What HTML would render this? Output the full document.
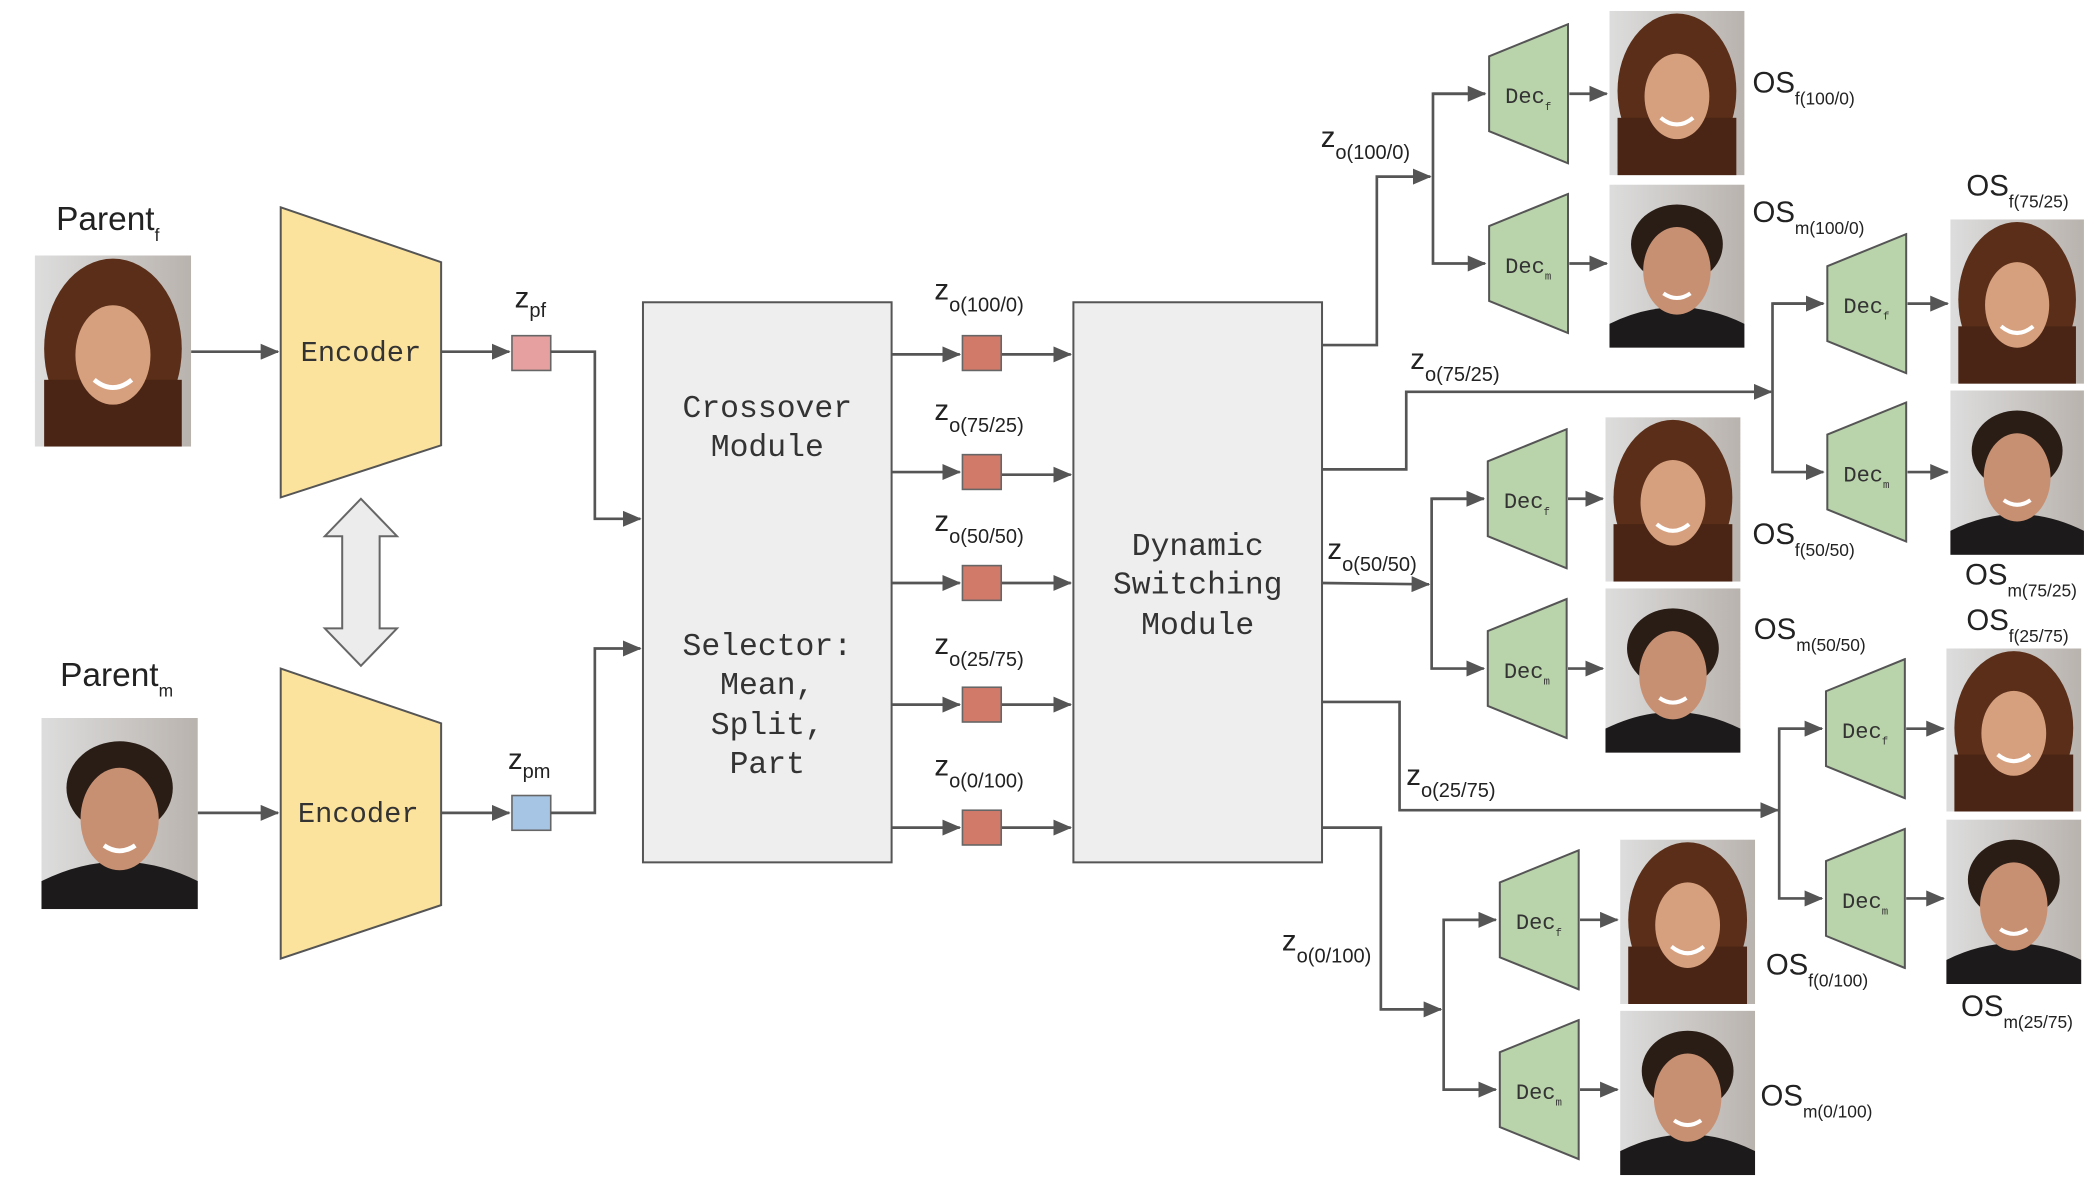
<!DOCTYPE html>
<html><head><meta charset="utf-8"><style>
html,body{margin:0;padding:0;background:#fff}
svg{display:block}
.mono{font-family:"Liberation Mono",monospace;fill:#333}
.sans{font-family:"Liberation Sans",sans-serif;fill:#222}
.ln{stroke:#555;stroke-width:2;fill:none}
</style></head><body>
<svg width="2096" height="1182" viewBox="0 0 1568 884" xmlns="http://www.w3.org/2000/svg">
<defs>
<marker id="b" markerWidth="14" markerHeight="12" refX="13" refY="6" orient="auto" markerUnits="userSpaceOnUse"><path d="M0,0 L14,6 L0,12z" fill="#555"/></marker>
<linearGradient id="bgf" x1="0" x2="1"><stop offset="0" stop-color="#ddd"/><stop offset="1" stop-color="#b9b3ae"/></linearGradient>
<symbol id="ff" viewBox="0 0 100 123" preserveAspectRatio="none">
<rect width="100" height="123" fill="url(#bgf)"/>
<ellipse cx="50" cy="60" rx="44" ry="58" fill="#5a2e18"/>
<rect x="6" y="80" width="88" height="43" fill="#4a2515"/>
<ellipse cx="50" cy="64" rx="24" ry="32" fill="#d6a07e"/>
<path d="M38,80 Q50,90 62,80" stroke="#fff" stroke-width="3" fill="none"/>
</symbol>
<symbol id="fm" viewBox="0 0 100 123" preserveAspectRatio="none">
<rect width="100" height="123" fill="url(#bgf)"/>
<ellipse cx="50" cy="45" rx="34" ry="30" fill="#2a1d16"/>
<path d="M0,123 L0,105 Q50,80 100,105 L100,123z" fill="#1c1a1a"/>
<ellipse cx="50" cy="65" rx="25" ry="33" fill="#c89072"/>
<path d="M40,82 Q50,89 60,82" stroke="#fff" stroke-width="3" fill="none"/>
</symbol>
<symbol id="dec" viewBox="0 0 61 106" preserveAspectRatio="none">
<polygon points="1,25 60,1 60,105 1,81" fill="#b9d3aa" stroke="#555" stroke-width="1.5"/>
</symbol>
</defs>

<text x="42" y="172" class="sans" font-size="25">Parent<tspan font-size="13" dy="8">f</tspan></text>
<use href="#ff" x="26" y="191" width="117" height="143"/>
<text x="45" y="513" class="sans" font-size="25">Parent<tspan font-size="13" dy="8">m</tspan></text>
<use href="#fm" x="31" y="537" width="117" height="143"/>

<polygon points="210,155 330,196 330,333 210,372" fill="#fce39d" stroke="#555" stroke-width="1.5"/>
<text x="270" y="270" class="mono" font-size="21.5" text-anchor="middle">Encoder</text>
<polygon points="210,500 330,541 330,677 210,717" fill="#fce39d" stroke="#555" stroke-width="1.5"/>
<text x="268" y="615" class="mono" font-size="21.5" text-anchor="middle">Encoder</text>
<polygon points="270,373 297,401 284,401 284,470 297,470 270,498 243,470 256,470 256,401 243,401" fill="#ececec" stroke="#666" stroke-width="1.5"/>

<line x1="143" y1="263" x2="208" y2="263" class="ln" marker-end="url(#b)"/>
<line x1="148" y1="608" x2="208" y2="608" class="ln" marker-end="url(#b)"/>
<line x1="330" y1="263" x2="381" y2="263" class="ln" marker-end="url(#b)"/>
<line x1="330" y1="608" x2="381" y2="608" class="ln" marker-end="url(#b)"/>
<rect x="383" y="251" width="29" height="26" fill="#e6a0a0" stroke="#666" stroke-width="1.2"/>
<rect x="383" y="595" width="29" height="26" fill="#a6c4e4" stroke="#666" stroke-width="1.2"/>
<text x="385" y="230" class="sans" font-size="22">z<tspan font-size="15" dy="7">pf</tspan></text>
<text x="380" y="575" class="sans" font-size="22">z<tspan font-size="15" dy="7">pm</tspan></text>
<polyline points="412,263 445,263 445,388 479,388" class="ln" marker-end="url(#b)"/>
<polyline points="412,608 445,608 445,485 479,485" class="ln" marker-end="url(#b)"/>

<rect x="481" y="226" width="186" height="419" fill="#eeeeee" stroke="#555" stroke-width="1.5"/>
<g class="mono" font-size="23.5" text-anchor="middle">
<text x="574" y="312">Crossover</text><text x="574" y="341">Module</text>
<text x="574" y="490">Selector:</text><text x="574" y="519">Mean,</text>
<text x="574" y="549">Split,</text><text x="574" y="578">Part</text>
</g>

<g>
<line x1="667" y1="265" x2="718" y2="265" class="ln" marker-end="url(#b)"/><line x1="749" y1="265" x2="801" y2="265" class="ln" marker-end="url(#b)"/>
<line x1="667" y1="353" x2="718" y2="353" class="ln" marker-end="url(#b)"/><line x1="749" y1="355" x2="801" y2="355" class="ln" marker-end="url(#b)"/>
<line x1="667" y1="436" x2="718" y2="436" class="ln" marker-end="url(#b)"/><line x1="749" y1="436" x2="801" y2="436" class="ln" marker-end="url(#b)"/>
<line x1="667" y1="527" x2="718" y2="527" class="ln" marker-end="url(#b)"/><line x1="749" y1="527" x2="801" y2="527" class="ln" marker-end="url(#b)"/>
<line x1="667" y1="619" x2="718" y2="619" class="ln" marker-end="url(#b)"/><line x1="749" y1="619" x2="801" y2="619" class="ln" marker-end="url(#b)"/>
<rect x="720" y="251" width="29" height="26" fill="#d27a6a" stroke="#666" stroke-width="1.2"/>
<rect x="720" y="340" width="29" height="26" fill="#d27a6a" stroke="#666" stroke-width="1.2"/>
<rect x="720" y="423" width="29" height="26" fill="#d27a6a" stroke="#666" stroke-width="1.2"/>
<rect x="720" y="514" width="29" height="26" fill="#d27a6a" stroke="#666" stroke-width="1.2"/>
<rect x="720" y="606" width="29" height="26" fill="#d27a6a" stroke="#666" stroke-width="1.2"/>
</g>
<g class="sans" font-size="22">
<text x="699" y="224">z<tspan font-size="15" dy="9">o(100/0)</tspan></text>
<text x="699" y="314">z<tspan font-size="15" dy="9">o(75/25)</tspan></text>
<text x="699" y="397">z<tspan font-size="15" dy="9">o(50/50)</tspan></text>
<text x="699" y="489">z<tspan font-size="15" dy="9">o(25/75)</tspan></text>
<text x="699" y="580">z<tspan font-size="15" dy="9">o(0/100)</tspan></text>
</g>

<rect x="803" y="226" width="186" height="419" fill="#eeeeee" stroke="#555" stroke-width="1.5"/>
<g class="mono" font-size="23.5" text-anchor="middle">
<text x="896" y="415">Dynamic</text><text x="896" y="444">Switching</text><text x="896" y="474">Module</text>
</g>

<polyline points="989,258 1030,258 1030,132 1070,132" class="ln" marker-end="url(#b)"/>
<polyline points="1111,70 1072,70 1072,197 1111,197" class="ln" marker-end="url(#b)"/>
<line x1="1072" y1="70" x2="1111" y2="70" class="ln" marker-end="url(#b)"/>
<polyline points="989,351 1052,351 1052,293 1325,293" class="ln" marker-end="url(#b)"/>
<polyline points="1364,227 1326,227 1326,353 1364,353" class="ln" marker-end="url(#b)"/>
<line x1="1326" y1="227" x2="1364" y2="227" class="ln" marker-end="url(#b)"/>
<line x1="989" y1="436" x2="1069" y2="437" class="ln" marker-end="url(#b)"/>
<polyline points="1110,373 1071,373 1071,500 1110,500" class="ln" marker-end="url(#b)"/>
<line x1="1071" y1="373" x2="1110" y2="373" class="ln" marker-end="url(#b)"/>
<polyline points="989,525 1047,525 1047,606 1330,606" class="ln" marker-end="url(#b)"/>
<polyline points="1363,545 1331,545 1331,672 1363,672" class="ln" marker-end="url(#b)"/>
<line x1="1331" y1="545" x2="1363" y2="545" class="ln" marker-end="url(#b)"/>
<polyline points="989,619 1033,619 1033,755 1078,755" class="ln" marker-end="url(#b)"/>
<polyline points="1119,688 1080,688 1080,815 1119,815" class="ln" marker-end="url(#b)"/>
<line x1="1080" y1="688" x2="1119" y2="688" class="ln" marker-end="url(#b)"/>

<g class="sans" font-size="22">
<text x="988" y="110">z<tspan font-size="15" dy="9">o(100/0)</tspan></text>
<text x="1055" y="276">z<tspan font-size="15" dy="9">o(75/25)</tspan></text>
<text x="993" y="418">z<tspan font-size="15" dy="9">o(50/50)</tspan></text>
<text x="1052" y="587">z<tspan font-size="15" dy="9">o(25/75)</tspan></text>
<text x="959" y="711">z<tspan font-size="15" dy="9">o(0/100)</tspan></text>
</g>

<g>
<use href="#dec" x="1113" y="17" width="61" height="106"/><use href="#dec" x="1113" y="144" width="61" height="106"/>
<use href="#dec" x="1366" y="174" width="61" height="106"/><use href="#dec" x="1366" y="300" width="61" height="106"/>
<use href="#dec" x="1112" y="320" width="61" height="106"/><use href="#dec" x="1112" y="447" width="61" height="106"/>
<use href="#dec" x="1365" y="492" width="61" height="106"/><use href="#dec" x="1365" y="619" width="61" height="106"/>
<use href="#dec" x="1121" y="635" width="61" height="106"/><use href="#dec" x="1121" y="762" width="61" height="106"/>
</g>
<g class="mono" font-size="16.5">
<text x="1126" y="77">Dec<tspan font-size="8" dy="5">f</tspan></text>
<text x="1126" y="204">Dec<tspan font-size="8" dy="5">m</tspan></text>
<text x="1379" y="234">Dec<tspan font-size="8" dy="5">f</tspan></text>
<text x="1379" y="360">Dec<tspan font-size="8" dy="5">m</tspan></text>
<text x="1125" y="380">Dec<tspan font-size="8" dy="5">f</tspan></text>
<text x="1125" y="507">Dec<tspan font-size="8" dy="5">m</tspan></text>
<text x="1378" y="552">Dec<tspan font-size="8" dy="5">f</tspan></text>
<text x="1378" y="679">Dec<tspan font-size="8" dy="5">m</tspan></text>
<text x="1134" y="695">Dec<tspan font-size="8" dy="5">f</tspan></text>
<text x="1134" y="822">Dec<tspan font-size="8" dy="5">m</tspan></text>
</g>
<g>
<line x1="1174" y1="70" x2="1202" y2="70" class="ln" marker-end="url(#b)"/>
<line x1="1174" y1="197" x2="1202" y2="197" class="ln" marker-end="url(#b)"/>
<line x1="1427" y1="227" x2="1457" y2="227" class="ln" marker-end="url(#b)"/>
<line x1="1427" y1="353" x2="1457" y2="353" class="ln" marker-end="url(#b)"/>
<line x1="1173" y1="373" x2="1199" y2="373" class="ln" marker-end="url(#b)"/>
<line x1="1173" y1="500" x2="1199" y2="500" class="ln" marker-end="url(#b)"/>
<line x1="1426" y1="545" x2="1454" y2="545" class="ln" marker-end="url(#b)"/>
<line x1="1426" y1="672" x2="1454" y2="672" class="ln" marker-end="url(#b)"/>
<line x1="1182" y1="688" x2="1210" y2="688" class="ln" marker-end="url(#b)"/>
<line x1="1182" y1="815" x2="1210" y2="815" class="ln" marker-end="url(#b)"/>
</g>

<use href="#ff" x="1204" y="8" width="101" height="123"/>
<use href="#fm" x="1204" y="138" width="101" height="122"/>
<use href="#ff" x="1459" y="164" width="100" height="123"/>
<use href="#fm" x="1459" y="292" width="100" height="123"/>
<use href="#ff" x="1201" y="312" width="101" height="123"/>
<use href="#fm" x="1201" y="440" width="101" height="123"/>
<use href="#ff" x="1456" y="485" width="101" height="122"/>
<use href="#fm" x="1456" y="613" width="101" height="123"/>
<use href="#ff" x="1212" y="628" width="101" height="123"/>
<use href="#fm" x="1212" y="756" width="101" height="123"/>

<g class="sans" font-size="22">
<text x="1311" y="69">OS<tspan font-size="13" dy="9">f(100/0)</tspan></text>
<text x="1311" y="166">OS<tspan font-size="13" dy="9">m(100/0)</tspan></text>
<text x="1471" y="146">OS<tspan font-size="13" dy="9">f(75/25)</tspan></text>
<text x="1470" y="437">OS<tspan font-size="13" dy="9">m(75/25)</tspan></text>
<text x="1311" y="407">OS<tspan font-size="13" dy="9">f(50/50)</tspan></text>
<text x="1312" y="478">OS<tspan font-size="13" dy="9">m(50/50)</tspan></text>
<text x="1471" y="471">OS<tspan font-size="13" dy="9">f(25/75)</tspan></text>
<text x="1467" y="760">OS<tspan font-size="13" dy="9">m(25/75)</tspan></text>
<text x="1321" y="729">OS<tspan font-size="13" dy="9">f(0/100)</tspan></text>
<text x="1317" y="827">OS<tspan font-size="13" dy="9">m(0/100)</tspan></text>
</g>
</svg>
</body></html>
